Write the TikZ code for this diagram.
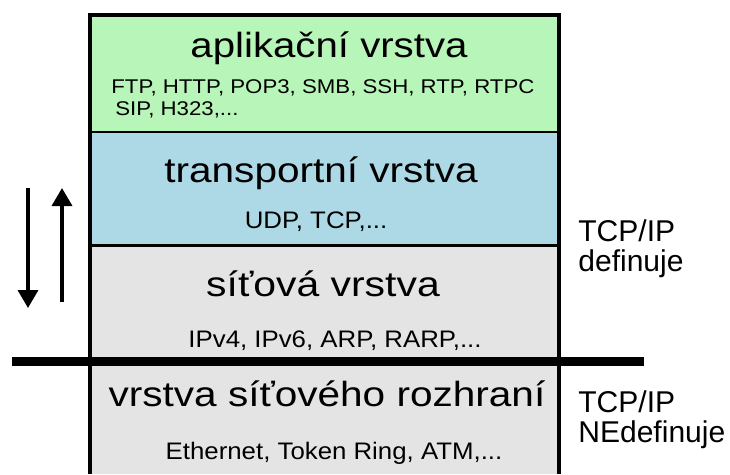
\documentclass[tikz,border=0pt]{standalone}
\usepackage{fontspec}
\setmainfont{Liberation Sans}
\usepackage{graphicx, xcolor}
\usetikzlibrary{arrows.meta}

\definecolor{appgreen}{RGB}{184,245,184}
\definecolor{transblue}{RGB}{173,216,230}
\definecolor{netgray}{RGB}{228,228,228}
\newcommand{\wtext}[2]{\scalebox{#1}[1]{#2}}

\begin{document}
\begin{tikzpicture}[x=0.02cm, y=-0.02cm,
    title/.style={anchor=base, inner sep=0pt, font=\fontsize{19.9}{24}\selectfont},
    proto/.style={anchor=base, inner sep=0pt, font=\fontsize{13.6}{16}\selectfont},
    side/.style={anchor=north west, inner sep=0pt, align=left, font=\fontsize{17.1}{17.1}\selectfont}]
    \useasboundingbox (0,0) rectangle (730,474);

    % Layers
    \fill[appgreen] (90,15) rectangle (559,132);
    \fill[transblue] (90,132) rectangle (559,245);
    \fill[netgray] (90,245) rectangle (559,474);

    % Borders
    \draw[line width=2.3pt] (90,474) -- (90,15) -- (559,15) -- (559,474);
    \draw[line width=1.7pt] (90,132) -- (559,132);
    \draw[line width=1.7pt] (90,245) -- (559,245);
    % \draw[line width=1.7pt] (90,474) -- (559,474);

    % Boundary of TCP/IP
    \draw[line width=5.1pt] (12,361.5) -- (644,361.5);

    % Layer names
    \node[title] (app) at (329,57) {\wtext{1.15}{aplikační vrstva}};
    \node[title] (trans) at (321,182) {\wtext{1.16}{transportní vrstva}};
    \node[title] (net) at (323,296) {\wtext{1.17}{síťová vrstva}};
    \node[title] (link) at (327,406) {\wtext{1.16}{vrstva síťového rozhraní}};

    % Protocols
    \node[proto, anchor=base west, font=\fontsize{11.3}{13}\selectfont] (appa) at (111,93)
        {\wtext{1.12}{FTP, HTTP, POP3, SMB, SSH, RTP, RTPC}};
    \node[proto, anchor=base west, font=\fontsize{11.3}{13}\selectfont] (appb) at (115,115)
        {\wtext{1.12}{SIP, H323,...}};
    \node[proto] (transp) at (316,228) {\wtext{1.08}{UDP, TCP,...}};
    \node[proto] (netp) at (335,347) {\wtext{1.08}{IPv4, IPv6, ARP, RARP,...}};
    \node[proto] (linkp) at (334,459) {\wtext{1.08}{Ethernet, Token Ring, ATM,...}};

    % Side labels
    \node[side] (def) at (578,219) {TCP/IP\\definuje};
    \node[side] (nodef) at (578,390) {TCP/IP\\NEdefinuje};

    % Arrows
    \coordinate (downtop) at (28,188);
    \coordinate (downbot) at (28,308);
    \coordinate (upbot) at (62,302);
    \coordinate (uptop) at (62,188);
    \draw[-{Triangle[width=0.4cm,length=0.36cm]}, line width=2pt] (downtop) -- (downbot);
    \draw[-{Triangle[width=0.4cm,length=0.36cm]}, line width=2pt] (upbot) -- (uptop);
\end{tikzpicture}
\end{document}
